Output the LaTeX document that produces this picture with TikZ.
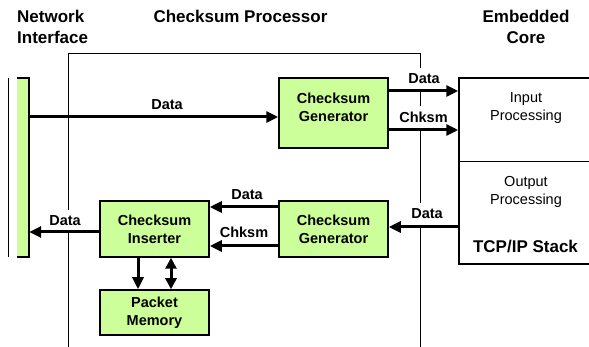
\documentclass[tikz,border=0pt]{standalone}
\usepackage{fontspec}
\setmainfont{Liberation Sans}
\usetikzlibrary{arrows.meta}
\definecolor{blockgreen}{RGB}{204,255,153}

\begin{document}
\begin{tikzpicture}[x=1pt, y=-1pt,
    block/.style={draw=black, line width=1.5pt, fill=blockgreen, minimum width=109pt,
        inner sep=0pt, align=center, font=\fontsize{14.5}{18}\selectfont\bfseries},
    sig/.style={fill=white, inner sep=6pt, anchor=base, font=\fontsize{14.5}{18}\selectfont\bfseries},
    title/.style={inner sep=0pt, font=\fontsize{17}{20.5}\selectfont\bfseries},
    plain/.style={inner sep=0pt, align=center, anchor=north, font=\fontsize{14.5}{18}\selectfont},
    bus/.style={line width=3pt, -{Triangle[length=12pt,width=11pt]}},
    bibus/.style={line width=3pt, {Triangle[length=11pt,width=11pt]}-{Triangle[length=11pt,width=11pt]}},
    thinline/.style={line width=0.9pt}]
    \useasboundingbox (0,0) rectangle (589,347);

    % titles
    \node[title, anchor=north west, align=left] (niclabel) at (17,10) {Network\\Interface};
    \node[title, anchor=base] (cplabel) at (240.5,22.3) {Checksum Processor};
    \node[title, anchor=north, align=center] (corelabel) at (526,10) {Embedded\\Core};

    % checksum processor outline
    \draw[thinline] (68,347) -- (68,53) -- (420,53) -- (420,347);

    % network interface
    \node[fill=blockgreen, minimum width=12pt, minimum height=179pt, inner sep=0pt] (nic) at (23,167.5) {};
    \draw[line width=1.5pt] (nic.north west) -- (nic.north east) -- (nic.south east) -- (nic.south west);
    \draw[thinline] ([xshift=-8pt]nic.north west) -- ([xshift=-8pt]nic.south west);

    % embedded core
    \node[draw, line width=1.5pt, minimum width=141pt, minimum height=186pt, inner sep=0pt] (core) at (529.5,171) {};
    \draw[thinline] (core.west |- 0,161) -- (core.east |- 0,161);
    \node[plain] (inproc) at (526,92) {Input\\Processing};
    \node[plain] (outproc) at (526,176.5) {Output\\Processing};
    \node[title, anchor=base] (stack) at (525.5,252.7) {TCP/IP Stack};

    % blocks
    \node[block, minimum height=70pt, text depth=12pt] (gentop) at (333.5,113) {Checksum\\Generator};
    \node[block, minimum height=56pt] (genbot) at (333.5,229) {Checksum\\Generator};
    \node[block, minimum height=56pt] (ins) at (154.5,229) {Checksum\\Inserter};
    \node[block, minimum height=45pt] (mem) at (154.5,312.5) {Packet\\Memory};

    % signal labels
    \node[sig] (l1) at (167,110) {Data};
    \node[sig] (l2) at (424,84) {Data};
    \node[sig] (l3) at (423.5,123) {Chksm};
    \node[sig] (l4) at (427,219) {Data};
    \node[sig] (l5) at (247,200) {Data};
    \node[sig] (l6) at (244,238) {Chksm};
    \node[sig] (l7) at (65,226) {Data};

    % connectors
    \draw[bus] (nic.east |- 0,117) -- (gentop.west |- 0,117);
    \foreach \y in {91,130} {
        \draw[bus] (gentop.east |- 0,\y) -- (core.west |- 0,\y);
    }
    \draw[bus] (core.west |- 0,227) -- (genbot.east |- 0,227);
    \foreach \y in {207,246} {
        \draw[bus] (genbot.west |- 0,\y) -- (ins.east |- 0,\y);
    }
    \draw[bus] (ins.west |- 0,232) -- (nic.east |- 0,232);
    \draw[bus] (ins.south -| 138,0) -- (mem.north -| 138,0);
    \draw[bibus] (ins.south -| 171,0) -- (mem.north -| 171,0);
\end{tikzpicture}
\end{document}
